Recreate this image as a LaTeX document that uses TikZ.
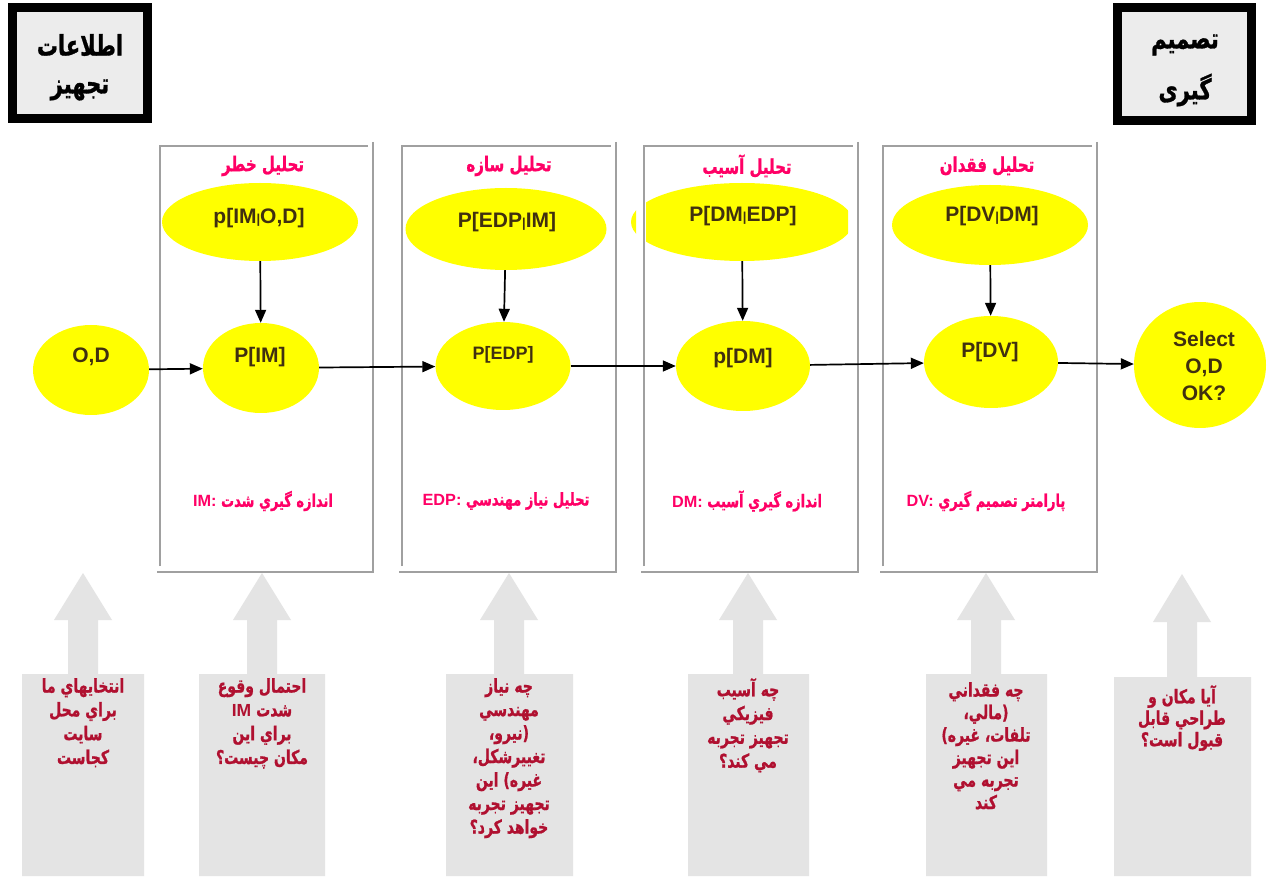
\documentclass[tikz,border=0pt]{standalone}
\usepackage{graphicx}
\usepackage{fontspec}
\setmainfont{Liberation Sans}
\newfontfamily\fa[Script=Arabic,FakeBold=1.2]{DejaVu Sans}
\TeXXeTstate=1
\usetikzlibrary{shapes.geometric,arrows.meta}
\definecolor{ylw}{RGB}{255,255,0}
\definecolor{txtbrown}{RGB}{64,48,16}
\definecolor{pnk}{RGB}{255,0,102}
\definecolor{dred}{RGB}{176,16,48}
\definecolor{pgray}{RGB}{160,160,160}
\definecolor{boxgray}{RGB}{228,228,228}
\definecolor{topgray}{RGB}{236,236,236}
\newcommand\rl[1]{\scalebox{1}[1.35]{\beginR #1\endR}}
\newcommand\lt[1]{\beginL\scalebox{1.25}[0.926]{\normalfont\bfseries #1}\endL}
\newcommand\vbar{{\fontsize{13}{13}\selectfont|}}
\begin{document}
\begin{tikzpicture}[x=1pt,y=-1pt,
  yell/.style={ellipse, fill=ylw, draw=none, inner sep=0},
  lbl/.style={font=\bfseries\fontsize{21}{24}\selectfont, text=txtbrown, inner sep=0},
  ttl/.style={font=\fa\bfseries\fontsize{15}{20}\selectfont, text=pnk, inner sep=0},
  sub/.style={font=\fa\bfseries\fontsize{13}{17}\selectfont, text=pnk, inner sep=0},
  qtxt/.style={font=\fa\bfseries\fontsize{14}{23.8}\selectfont, text=dred, align=center, inner sep=0, anchor=north},
  arr/.style={line width=1.7pt, -{Triangle[length=13pt,width=11pt]}},
  panel/.style={line width=2.5pt, draw=pgray},
  bigbox/.style={fill=topgray, draw=black, line width=9pt},
  btxt/.style={font=\fa\bfseries\fontsize{21}{28}\selectfont, text=black, inner sep=0},
  uparrow/.style={fill=boxgray, draw=none}]
\useasboundingbox (0,0) rectangle (1267,882);
\fill[white] (0,0) rectangle (1267,882);

% top boxes
\draw[bigbox] (12.5,7.5) rectangle (147.5,118.5);
\node[btxt] (info1) at (80,45) {\rl{اطلاعات}};
\node[btxt] (info2) at (80,90) {\rl{تجهيز}};
\draw[bigbox] (1117.5,7.5) rectangle (1251.5,120.5);
\node[btxt] (dec1) at (1185,45) {\rl{تصميم}};
\node[btxt] (dec2) at (1185,90) {\rl{گیری}};

% panels
\foreach \l/\r in {160/373,402/616,644/858,883/1097}{
  \draw[panel] (\l,566) -- (\l,146) -- ({\r-5},146);
  \draw[panel] (\r,142) -- (\r,572) -- ({\l-3},572);
}

% panel titles
\node[ttl] (t1) at (263,166) {\rl{تحليل خطر}};
\node[ttl] (t2) at (509,166) {\rl{تحليل سازه}};
\node[ttl] (t3) at (747,166) {\rl{تحليل آسيب}};
\node[ttl] (t4) at (987,166) {\rl{تحليل فقدان}};

% top ellipses
\node[yell, minimum width=196, minimum height=78] (e1) at (260,222) {};
\node[lbl] (e1t) at (259,218) {p[IM\vbar O,D]};
\node[yell, minimum width=201, minimum height=82] (e2) at (506,229) {};
\node[lbl] (e2t) at (507,222) {P[EDP\vbar IM]};
\begin{scope}
  \clip (600,150) rectangle (636,300) (646,150) rectangle (848,300);
  \node[yell, minimum width=222, minimum height=78] (e3) at (742,222) {};
\end{scope}
\node[lbl] (e3t) at (743,216) {P[DM\vbar EDP]};
\node[yell, minimum width=196, minimum height=80] (e4) at (990,225) {};
\node[lbl] (e4t) at (992,216) {P[DV\vbar DM]};

% middle ellipses
\node[yell, minimum width=116, minimum height=90] (od) at (91,370) {};
\node[lbl] (odt) at (91,357) {O,D};
\node[yell, minimum width=116, minimum height=90] (pim) at (261,368) {};
\node[lbl] (pimt) at (260,357) {P[IM]};
\node[yell, minimum width=135, minimum height=88] (pedp) at (503,366) {};
\node[lbl, font=\bfseries\fontsize{18}{20}\selectfont] (pedpt) at (503,355) {P[EDP]};
\node[yell, minimum width=134, minimum height=90] (pdm) at (743,366) {};
\node[lbl] (pdmt) at (743,358) {p[DM]};
\node[yell, minimum width=134, minimum height=92] (pdv) at (991,362) {};
\node[lbl] (pdvt) at (990,352) {P[DV]};
\node[yell, minimum width=132, minimum height=126] (sel) at (1200,365) {};
\node[lbl, align=center, font=\bfseries\fontsize{21}{27}\selectfont] (selt) at (1204,366) {Select\\O,D\\OK?};

% connectors
\draw[arr] (od) -- (pim);
\draw[arr] (pim) -- (pedp);
\draw[arr] (pedp) -- (pdm);
\draw[arr] (pdm) -- (pdv);
\draw[arr] (pdv) -- (sel);
\draw[arr] (e1) -- (pim);
\draw[arr] (e2) -- (pedp);
\draw[arr] (e3) -- (pdm);
\draw[arr] (e4) -- (pdv);

% panel sub labels
\node[sub] (s1) at (263,501) {\rl{اندازه گيري شدت \lt{IM:}}};
\node[sub] (s2) at (506,501) {\rl{تحليل نياز مهندسي \lt{EDP:}}};
\node[sub] (s3) at (747,501) {\rl{اندازه گيري آسيب \lt{DM:}}};
\node[sub] (s4) at (986,501) {\rl{پارامتر تصميم گيري \lt{DV:}}};

% bottom up-arrows
\foreach \cx/\a/\b/\t/\hb/\tp in {83/22/144/674/620/573, 262/199/325/674/620/573, 509/446/573/674/620/573, 748/688/809/674/620/573, 986/926/1047/674/620/573, 1182/1114/1251/677/622/574}{
  \fill[uparrow] (\a,876) -- (\a,\t) -- ({\cx-15},\t) -- ({\cx-15},\hb) -- ({\cx-29},\hb) -- (\cx,\tp) -- ({\cx+29},\hb) -- ({\cx+15},\hb) -- ({\cx+15},\t) -- (\b,\t) -- (\b,876) -- cycle;
}

% questions
\node[qtxt] (q1) at (83,678) {\rl{انتخايهاي ما}\\\rl{براي محل}\\\rl{سايت}\\\rl{كجاست}};
\node[qtxt] (q2) at (262,678) {\rl{احتمال وقوع}\\\rl{شدت \lt{IM}}\\\rl{براي اين}\\\rl{مكان چيست؟}};
\node[qtxt, font=\fa\bfseries\fontsize{14}{23.5}\selectfont] (q3) at (509,678) {\rl{چه نياز}\\\rl{مهندسي}\\\rl{(نيرو،}\\\rl{تغييرشكل،}\\\rl{غيره) اين}\\\rl{تجهيز تجربه}\\\rl{خواهد كرد؟}};
\node[qtxt] (q4) at (748,678) {\rl{چه آسيب}\\\rl{فيزيكي}\\\rl{تجهيز تجربه}\\\rl{مي كند؟}};
\node[qtxt, font=\fa\bfseries\fontsize{14}{22.5}\selectfont] (q5) at (986,682) {\rl{چه فقداني}\\\rl{(مالي،}\\\rl{تلفات، غيره)}\\\rl{اين تجهيز}\\\rl{تجربه مي}\\\rl{كند}};
\node[qtxt, font=\fa\bfseries\fontsize{14}{21.5}\selectfont] (q6) at (1182,685) {\rl{آيا مكان و}\\\rl{طراحي قابل}\\\rl{قبول است؟}};
\end{tikzpicture}
\end{document}
